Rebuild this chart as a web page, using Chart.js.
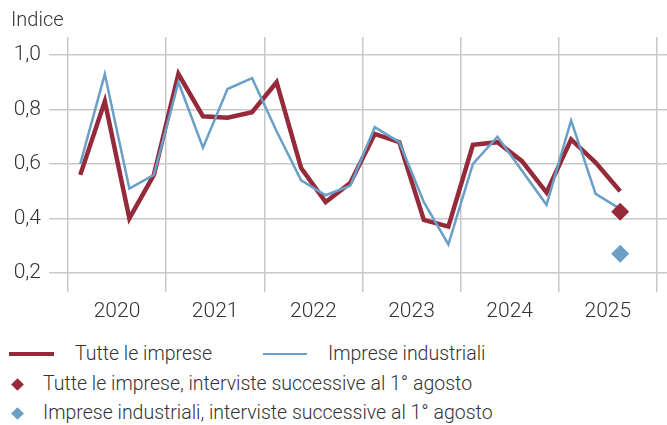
<!DOCTYPE html>
<html>
<head>
<meta charset="utf-8">
<script src="https://cdn.jsdelivr.net/npm/chart.js@4.4.1/dist/chart.umd.min.js"></script>
<style>
  body { margin: 0; background: #fff; font-family: Roboto, sans-serif; font-weight: 300; color: #333; }
  #wrap { position: relative; width: 667px; height: 425px; overflow: hidden; }
  #unit { position: absolute; left: 11px; top: 6px; font-size: 20px; line-height: 26px; }
  canvas { position: absolute; left: 0; top: 0; }
  .item { position: absolute; white-space: nowrap; }
  .txt { position: absolute; white-space: nowrap; font-size: 19.5px; height: 26px; line-height: 26px; }
  .diamond { position: absolute; width: 9px; height: 9px; transform: rotate(45deg); }
</style>
</head>
<body>
<div id="wrap">
  <canvas id="myChart" width="667" height="330"></canvas>
  <div id="unit">Indice</div>
  <div id="legend"></div>
</div>
<script>
// Quarters shown on the chart (2020 T1 .. 2025 T3)
const years = [2020, 2021, 2022, 2023, 2024, 2025];
const quarters = [
    '2020T1', '2020T2', '2020T3', '2020T4',
    '2021T1', '2021T2', '2021T3', '2021T4',
    '2022T1', '2022T2', '2022T3', '2022T4',
    '2023T1', '2023T2', '2023T3', '2023T4',
    '2024T1', '2024T2', '2024T3', '2024T4',
    '2025T1', '2025T2', '2025T3'
];

// Series values
let tutteImprese = [
    0.56, 0.83, 0.40, 0.56,
    0.93, 0.775, 0.77, 0.79,
    0.90, 0.585, 0.46, 0.53,
    0.71, 0.68, 0.395, 0.37,
    0.67, 0.68, 0.61, 0.495,
    0.69, 0.605, 0.50
];
let impreseIndustriali = [
    0.60, 0.93, 0.51, 0.56,
    0.90, 0.66, 0.875, 0.915,
    0.72, 0.54, 0.485, 0.52,
    0.735, 0.68, 0.46, 0.305,
    0.60, 0.70, 0.575, 0.45,
    0.76, 0.49, 0.435
];

// Late interviews (after 1 August), last quarter only
const agostoQuarter = '2025T3';
let tutteAgosto = 0.425;
let industrialiAgosto = 0.27;

const yTicks = [0.2, 0.4, 0.6, 0.8, 1.0];

const red = '#952a3b';
const blue = '#6a9fc6';
const gridColor = '#c8c8c8';

// quarter label -> position on a continuous year axis
function quarterPos(q) {
    let y = parseInt(q.slice(0, 4));
    let n = parseInt(q.slice(5));
    return y + (n - 0.5) / 4;
}

function toPoints(values) {
    return values.map(function(v, i) {
        return { x: quarterPos(quarters[i]), y: v };
    });
}

const ctx = document.getElementById('myChart').getContext('2d');
const myChart = new Chart(ctx, {
    type: 'line',
    data: {
        datasets: [
            {
                label: 'Tutte le imprese, interviste successive al 1° agosto',
                type: 'scatter',
                data: [{ x: quarterPos(agostoQuarter), y: tutteAgosto }],
                pointStyle: 'rectRot',
                pointRadius: 9,
                backgroundColor: red,
                borderWidth: 0
            },
            {
                label: 'Imprese industriali, interviste successive al 1° agosto',
                type: 'scatter',
                data: [{ x: quarterPos(agostoQuarter), y: industrialiAgosto }],
                pointStyle: 'rectRot',
                pointRadius: 9,
                backgroundColor: blue,
                borderWidth: 0
            },
            {
                label: 'Imprese industriali',
                data: toPoints(impreseIndustriali),
                borderColor: blue,
                borderWidth: 2.5,
                pointRadius: 0,
                tension: 0
            },
            {
                label: 'Tutte le imprese',
                data: toPoints(tutteImprese),
                borderColor: red,
                borderWidth: 4.5,
                pointRadius: 0,
                tension: 0
            }
        ]
    },
    options: {
        responsive: false,
        animation: false,
        devicePixelRatio: 1,
        layout: { autoPadding: false, padding: { top: 37, left: 0, right: 0, bottom: 0 } },
        plugins: {
            legend: { display: false },
            tooltip: { enabled: false }
        },
        scales: {
            x: {
                type: 'linear',
                min: 2020,
                max: 2026.102,
                afterBuildTicks: function(scale) {
                    scale.ticks = years.concat([2026]).map(function(v) { return { value: v }; });
                },
                afterFit: function(scale) {
                    scale.height = 38;
                    scale.paddingLeft = 0;
                    scale.paddingRight = 0;
                },
                grid: { color: gridColor, lineWidth: 1.5, drawTicks: false },
                border: { display: false },
                ticks: {
                    autoSkip: false,
                    maxRotation: 0,
                    padding: 7,
                    labelOffset: 49,
                    color: '#333',
                    font: { family: 'Roboto', size: 21, weight: '300' },
                    callback: function(v) { return years.indexOf(v) >= 0 ? String(v) : ''; }
                }
            },
            y: {
                min: 0.13,
                max: 1.066,
                afterBuildTicks: function(scale) {
                    scale.ticks = yTicks.map(function(v) { return { value: v }; });
                },
                afterFit: function(scale) {
                    scale.width = 68;
                    scale.paddingTop = 0;
                    scale.paddingBottom = 0;
                },
                grid: { color: gridColor, lineWidth: 1.5, tickLength: 19 },
                border: { display: false },
                ticks: {
                    padding: 8,
                    color: '#333',
                    font: { family: 'Roboto', size: 21, weight: '300' },
                    callback: function(v) { return v.toFixed(1).replace('.', ','); }
                }
            }
        }
    }
});

// HTML legend laid out like the original
const legend = document.getElementById('legend');
function addText(left, centerY, text) {
    let t = document.createElement('div');
    t.className = 'txt';
    t.style.left = left + 'px';
    t.style.top = (centerY - 13) + 'px';
    t.textContent = text;
    legend.appendChild(t);
}
function addLine(left, centerY, width, thick, color) {
    let s = document.createElement('div');
    s.className = 'item';
    s.style.left = left + 'px';
    s.style.top = (centerY - thick / 2) + 'px';
    s.style.width = width + 'px';
    s.style.height = thick + 'px';
    s.style.background = color;
    legend.appendChild(s);
}
function addDiamond(centerX, centerY, color) {
    let d = document.createElement('div');
    d.className = 'diamond';
    d.style.left = (centerX - 4.5) + 'px';
    d.style.top = (centerY - 4.5) + 'px';
    d.style.background = color;
    legend.appendChild(d);
}
let ds = myChart.data.datasets;
addLine(9, 354, 45, 4.5, red);
addText(75, 354, ds[3].label);
addLine(263, 354, 44, 2.5, blue);
addText(328, 354, ds[2].label);
addDiamond(17, 384, red);
addText(43, 384, ds[0].label);
addDiamond(17, 413, blue);
addText(43, 413, ds[1].label);
</script>
</body>
</html>
